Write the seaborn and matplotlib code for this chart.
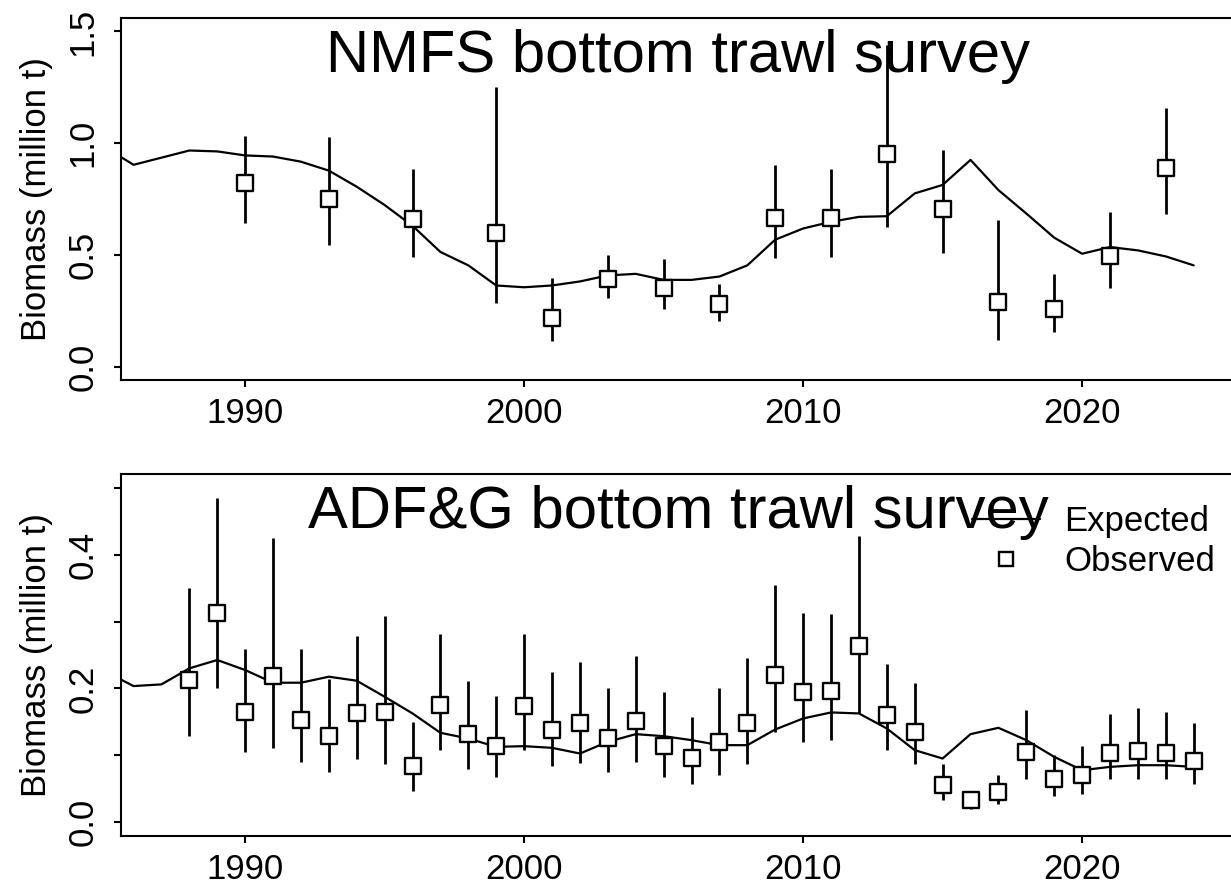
import numpy as np
import pandas as pd
import matplotlib
matplotlib.use("Agg")
import matplotlib.pyplot as plt
from matplotlib.lines import Line2D
import seaborn as sns

# NMFS bottom trawl survey (million t)
nmfs_exp_years = list(range(1985, 2025))
nmfs_expected = [0.98, 0.903, 0.935, 0.967, 0.963, 0.945, 0.94, 0.917, 0.877, 0.805,
                 0.723, 0.63, 0.513, 0.453, 0.363, 0.355, 0.363, 0.381, 0.408, 0.415,
                 0.388, 0.388, 0.403, 0.453, 0.568, 0.618, 0.648, 0.67, 0.673, 0.775,
                 0.813, 0.925, 0.79, 0.685, 0.577, 0.505, 0.535, 0.52, 0.493, 0.453]
nmfs_obs_years = [1990, 1993, 1996, 1999, 2001, 2003, 2005, 2007,
                  2009, 2011, 2013, 2015, 2017, 2019, 2021, 2023]
nmfs_observed = [0.82, 0.748, 0.66, 0.60, 0.216, 0.393, 0.352, 0.28,
                 0.663, 0.663, 0.95, 0.705, 0.288, 0.258, 0.493, 0.89]
nmfs_lower = [0.643, 0.543, 0.49, 0.283, 0.115, 0.306, 0.258, 0.202,
              0.486, 0.49, 0.625, 0.51, 0.118, 0.153, 0.35, 0.682]
nmfs_upper = [1.033, 1.027, 0.883, 1.25, 0.396, 0.50, 0.48, 0.37,
              0.90, 0.883, 1.44, 0.97, 0.658, 0.415, 0.69, 1.157]

# ADF&G bottom trawl survey (million t)
adfg_exp_years = list(range(1985, 2025))
adfg_expected = [0.225, 0.2035, 0.206, 0.23, 0.2425, 0.2275, 0.2085, 0.2085, 0.2175, 0.2115,
                 0.1875, 0.1625, 0.1335, 0.125, 0.1125, 0.1135, 0.111, 0.1025, 0.12, 0.1315,
                 0.1285, 0.1225, 0.115, 0.115, 0.1385, 0.155, 0.164, 0.1625, 0.14, 0.1075,
                 0.095, 0.1315, 0.141, 0.1225, 0.0975, 0.0775, 0.0825, 0.085, 0.085, 0.0825]
adfg_obs_years = list(range(1988, 2025))
adfg_observed = [0.2125, 0.3125, 0.165, 0.2185, 0.1525, 0.1285, 0.1625, 0.165, 0.0835, 0.175,
                 0.131, 0.114, 0.174, 0.1375, 0.1475, 0.125, 0.151, 0.114, 0.096, 0.12,
                 0.1475, 0.22, 0.195, 0.1965, 0.2635, 0.16, 0.135, 0.055, 0.0335, 0.045,
                 0.105, 0.065, 0.07, 0.1035, 0.106, 0.1035, 0.091]
adfg_lower = [0.1285, 0.20, 0.105, 0.1115, 0.09, 0.075, 0.095, 0.0875, 0.046, 0.1085,
              0.08, 0.0675, 0.1075, 0.0835, 0.0885, 0.075, 0.09, 0.0675, 0.0565, 0.071,
              0.0865, 0.135, 0.12, 0.1225, 0.1625, 0.1075, 0.0865, 0.0335, 0.02, 0.0275,
              0.065, 0.0385, 0.0425, 0.065, 0.065, 0.065, 0.0565]
adfg_upper = [0.351, 0.485, 0.259, 0.425, 0.2585, 0.2135, 0.2785, 0.3085, 0.149, 0.2815,
              0.2115, 0.1885, 0.2815, 0.225, 0.24, 0.20, 0.249, 0.195, 0.1575, 0.20,
              0.246, 0.355, 0.3135, 0.311, 0.4285, 0.2365, 0.2075, 0.0865, 0.045, 0.07,
              0.1675, 0.10, 0.1135, 0.1615, 0.17, 0.165, 0.1475]

sns.set_style("white")
plt.rcParams['font.family'] = ['Liberation Sans', 'DejaVu Sans']
plt.rcParams['axes.linewidth'] = 1.5
# plain black text everywhere, like base R graphics
for key in ['text.color', 'axes.labelcolor', 'xtick.color', 'ytick.color', 'axes.edgecolor']:
    plt.rcParams[key] = 'black'

W, H = 1231, 886
fig = plt.figure(figsize=(W / 100, H / 100), dpi=100)


def px_axes(left, top, right, bottom):
    return fig.add_axes([left / W, 1 - bottom / H, (right - left) / W, (bottom - top) / H])


def draw_panel(ax, exp_years, expected, obs_years, observed, lower, upper, title):
    exp_df = pd.DataFrame({'year': exp_years, 'value': expected})
    obs_df = pd.DataFrame({'year': obs_years, 'value': observed})
    sns.lineplot(data=exp_df, x='year', y='value', ax=ax, color='black', lw=1.6, zorder=2)
    ax.vlines(obs_years, lower, upper, color='black', lw=2, zorder=2)
    sns.scatterplot(data=obs_df, x='year', y='value', ax=ax, marker='s', s=120,
                    facecolor='white', edgecolor='black', linewidth=1.7, zorder=3)
    ax.set_xlim(1985.54, 2025.48)
    ax.set_xticks([1990, 2000, 2010, 2020])
    ax.set_xlabel('')
    ax.set_ylabel('Biomass (million t)', fontsize=25, color='black')
    ax.yaxis.set_label_coords((37 - 120.7) / 1114.3, 0.5)
    ax.yaxis.label.set_va('center')
    ax.tick_params(axis='both', direction='out', length=5, width=1.5, labelsize=25,
                   left=True, bottom=True, colors='black')
    ax.tick_params(axis='x', pad=7)
    ax.tick_params(axis='y', pad=10)
    for lab in ax.get_yticklabels():
        lab.set_rotation(90)
        lab.set_va('center')
    for sp in ax.spines.values():
        sp.set_color('black')
        sp.set_linewidth(1.5)
    ax.text(0.5, 0.851, title, transform=ax.transAxes, ha='center', va='baseline',
            fontsize=43, color='black')


ax1 = px_axes(120.7, 18, 1235, 380)
ax1.set_ylim(-0.06, 1.56)
ax1.set_yticks([0.0, 0.5, 1.0, 1.5])
ax1.set_yticklabels(['0.0', '0.5', '1.0', '1.5'])
draw_panel(ax1, nmfs_exp_years, nmfs_expected, nmfs_obs_years, nmfs_observed,
           nmfs_lower, nmfs_upper, 'NMFS bottom trawl survey')

ax2 = px_axes(120.7, 474, 1235, 836)
ax2.set_ylim(-0.021, 0.521)
ax2.set_yticks([0.0, 0.1, 0.2, 0.3, 0.4, 0.5])
ax2.set_yticklabels(['0.0', '', '0.2', '', '0.4', ''])
draw_panel(ax2, adfg_exp_years, adfg_expected, adfg_obs_years, adfg_observed,
           adfg_lower, adfg_upper, 'ADF&G bottom trawl survey')

handles = [Line2D([], [], color='black', lw=1.6),
           Line2D([], [], color='black', lw=0, marker='s', markersize=10,
                  markerfacecolor='white', markeredgewidth=1.7)]
leg = ax2.legend(handles, ['Expected', 'Observed'], loc='upper left',
                 bbox_to_anchor=(972 / W, 1 - 505 / H), bbox_transform=fig.transFigure,
                 frameon=False, fontsize=25, handlelength=1.95, handletextpad=0.7,
                 labelspacing=0.2, borderpad=0, borderaxespad=0)
for t in leg.get_texts():
    t.set_color('black')
leg.set_zorder(5)

fig.savefig('out.png', dpi=100)
